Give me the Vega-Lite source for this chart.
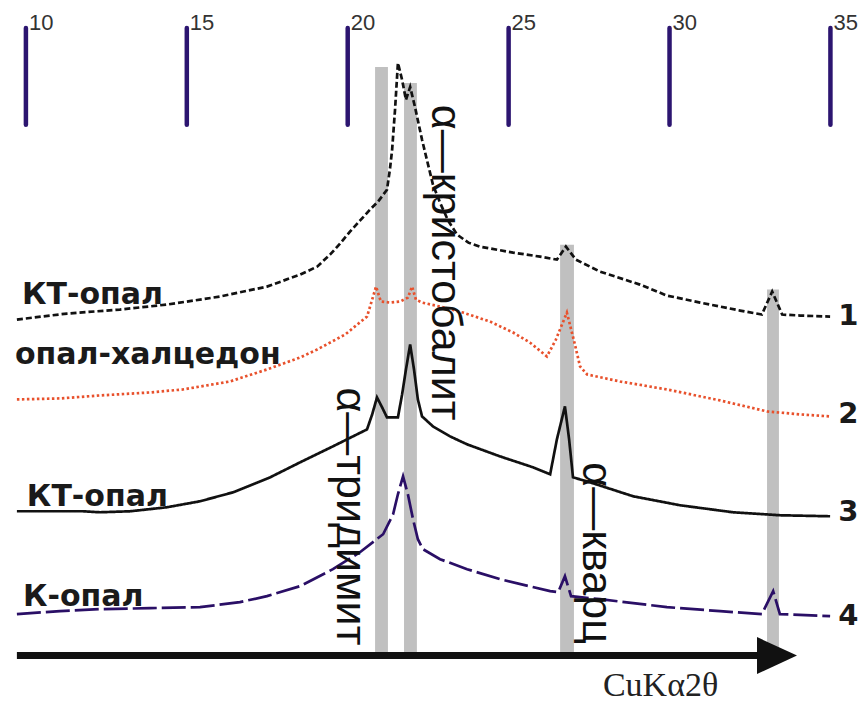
{
  "$schema": "https://vega.github.io/schema/vega-lite/v6.json",
  "width": 861,
  "height": 703,
  "autosize": {"type": "fit", "contains": "padding"},
  "padding": 0,
  "background": "white",
  "config": {"view": {"stroke": null}},
  "datasets": {
    "patterns": [
      {"curve": "1", "twotheta": 9.72, "intensity": 38.3},
      {"curve": "1", "twotheta": 11.28, "intensity": 38.9},
      {"curve": "1", "twotheta": 12.92, "intensity": 39.3},
      {"curve": "1", "twotheta": 14.38, "intensity": 39.8},
      {"curve": "1", "twotheta": 16.03, "intensity": 40.6},
      {"curve": "1", "twotheta": 17.49, "intensity": 41.6},
      {"curve": "1", "twotheta": 18.52, "intensity": 42.8},
      {"curve": "1", "twotheta": 19.05, "intensity": 43.6},
      {"curve": "1", "twotheta": 19.45, "intensity": 44.8},
      {"curve": "1", "twotheta": 19.76, "intensity": 45.9},
      {"curve": "1", "twotheta": 20.07, "intensity": 47.1},
      {"curve": "1", "twotheta": 20.38, "intensity": 48.2},
      {"curve": "1", "twotheta": 20.69, "intensity": 49.3},
      {"curve": "1", "twotheta": 20.94, "intensity": 50.1},
      {"curve": "1", "twotheta": 21.22, "intensity": 51.3},
      {"curve": "1", "twotheta": 21.31, "intensity": 53.3},
      {"curve": "1", "twotheta": 21.38, "intensity": 55.3},
      {"curve": "1", "twotheta": 21.47, "intensity": 59.3},
      {"curve": "1", "twotheta": 21.56, "intensity": 64.0},
      {"curve": "1", "twotheta": 21.69, "intensity": 62.3},
      {"curve": "1", "twotheta": 21.81, "intensity": 60.3},
      {"curve": "1", "twotheta": 21.94, "intensity": 61.6},
      {"curve": "1", "twotheta": 22.09, "intensity": 59.6},
      {"curve": "1", "twotheta": 22.31, "intensity": 56.3},
      {"curve": "1", "twotheta": 22.46, "intensity": 54.3},
      {"curve": "1", "twotheta": 22.65, "intensity": 51.8},
      {"curve": "1", "twotheta": 22.87, "intensity": 50.0},
      {"curve": "1", "twotheta": 23.12, "intensity": 48.2},
      {"curve": "1", "twotheta": 23.40, "intensity": 46.8},
      {"curve": "1", "twotheta": 23.75, "intensity": 46.0},
      {"curve": "1", "twotheta": 24.11, "intensity": 45.6},
      {"curve": "1", "twotheta": 25.14, "intensity": 45.0},
      {"curve": "1", "twotheta": 25.98, "intensity": 44.6},
      {"curve": "1", "twotheta": 26.50, "intensity": 44.3},
      {"curve": "1", "twotheta": 26.78, "intensity": 45.6},
      {"curve": "1", "twotheta": 27.09, "intensity": 44.3},
      {"curve": "1", "twotheta": 27.84, "intensity": 43.1},
      {"curve": "1", "twotheta": 29.08, "intensity": 41.8},
      {"curve": "1", "twotheta": 29.92, "intensity": 40.7},
      {"curve": "1", "twotheta": 30.95, "intensity": 40.0},
      {"curve": "1", "twotheta": 32.19, "intensity": 39.2},
      {"curve": "1", "twotheta": 32.87, "intensity": 38.8},
      {"curve": "1", "twotheta": 33.19, "intensity": 41.1},
      {"curve": "1", "twotheta": 33.50, "intensity": 38.8},
      {"curve": "1", "twotheta": 34.06, "intensity": 38.7},
      {"curve": "1", "twotheta": 34.99, "intensity": 38.6},

      {"curve": "2", "twotheta": 9.72, "intensity": 30.3},
      {"curve": "2", "twotheta": 11.06, "intensity": 30.4},
      {"curve": "2", "twotheta": 12.30, "intensity": 30.7},
      {"curve": "2", "twotheta": 13.86, "intensity": 31.0},
      {"curve": "2", "twotheta": 14.88, "intensity": 31.3},
      {"curve": "2", "twotheta": 16.34, "intensity": 32.1},
      {"curve": "2", "twotheta": 17.49, "intensity": 33.3},
      {"curve": "2", "twotheta": 18.52, "intensity": 34.5},
      {"curve": "2", "twotheta": 19.05, "intensity": 35.3},
      {"curve": "2", "twotheta": 19.92, "intensity": 36.8},
      {"curve": "2", "twotheta": 20.60, "intensity": 38.6},
      {"curve": "2", "twotheta": 20.76, "intensity": 40.3},
      {"curve": "2", "twotheta": 20.88, "intensity": 41.6},
      {"curve": "2", "twotheta": 21.03, "intensity": 40.1},
      {"curve": "2", "twotheta": 21.31, "intensity": 40.0},
      {"curve": "2", "twotheta": 21.63, "intensity": 40.1},
      {"curve": "2", "twotheta": 21.87, "intensity": 40.5},
      {"curve": "2", "twotheta": 22.00, "intensity": 41.6},
      {"curve": "2", "twotheta": 22.12, "intensity": 40.3},
      {"curve": "2", "twotheta": 22.31, "intensity": 40.0},
      {"curve": "2", "twotheta": 22.87, "intensity": 39.6},
      {"curve": "2", "twotheta": 23.58, "intensity": 39.0},
      {"curve": "2", "twotheta": 24.42, "intensity": 38.1},
      {"curve": "2", "twotheta": 25.14, "intensity": 37.0},
      {"curve": "2", "twotheta": 25.66, "intensity": 36.0},
      {"curve": "2", "twotheta": 26.19, "intensity": 34.6},
      {"curve": "2", "twotheta": 26.47, "intensity": 36.3},
      {"curve": "2", "twotheta": 26.81, "intensity": 39.0},
      {"curve": "2", "twotheta": 27.06, "intensity": 35.8},
      {"curve": "2", "twotheta": 27.22, "intensity": 33.6},
      {"curve": "2", "twotheta": 27.44, "intensity": 32.8},
      {"curve": "2", "twotheta": 28.46, "intensity": 32.1},
      {"curve": "2", "twotheta": 29.92, "intensity": 31.3},
      {"curve": "2", "twotheta": 31.57, "intensity": 30.2},
      {"curve": "2", "twotheta": 33.03, "intensity": 29.1},
      {"curve": "2", "twotheta": 34.06, "intensity": 28.8},
      {"curve": "2", "twotheta": 34.99, "intensity": 28.6},

      {"curve": "3", "twotheta": 9.72, "intensity": 19.1},
      {"curve": "3", "twotheta": 10.75, "intensity": 19.1},
      {"curve": "3", "twotheta": 11.77, "intensity": 19.1},
      {"curve": "3", "twotheta": 12.30, "intensity": 19.0},
      {"curve": "3", "twotheta": 13.24, "intensity": 19.1},
      {"curve": "3", "twotheta": 14.38, "intensity": 19.5},
      {"curve": "3", "twotheta": 15.41, "intensity": 20.1},
      {"curve": "3", "twotheta": 16.44, "intensity": 21.0},
      {"curve": "3", "twotheta": 17.59, "intensity": 22.5},
      {"curve": "3", "twotheta": 18.52, "intensity": 24.0},
      {"curve": "3", "twotheta": 19.54, "intensity": 25.6},
      {"curve": "3", "twotheta": 20.60, "intensity": 27.3},
      {"curve": "3", "twotheta": 20.76, "intensity": 28.8},
      {"curve": "3", "twotheta": 20.91, "intensity": 30.5},
      {"curve": "3", "twotheta": 21.07, "intensity": 29.5},
      {"curve": "3", "twotheta": 21.22, "intensity": 28.5},
      {"curve": "3", "twotheta": 21.56, "intensity": 28.5},
      {"curve": "3", "twotheta": 21.69, "intensity": 30.8},
      {"curve": "3", "twotheta": 21.81, "intensity": 33.3},
      {"curve": "3", "twotheta": 21.94, "intensity": 35.8},
      {"curve": "3", "twotheta": 22.06, "intensity": 33.3},
      {"curve": "3", "twotheta": 22.18, "intensity": 30.3},
      {"curve": "3", "twotheta": 22.31, "intensity": 28.6},
      {"curve": "3", "twotheta": 22.65, "intensity": 27.6},
      {"curve": "3", "twotheta": 23.18, "intensity": 26.6},
      {"curve": "3", "twotheta": 23.71, "intensity": 25.8},
      {"curve": "3", "twotheta": 24.73, "intensity": 24.6},
      {"curve": "3", "twotheta": 25.76, "intensity": 23.5},
      {"curve": "3", "twotheta": 26.29, "intensity": 22.8},
      {"curve": "3", "twotheta": 26.50, "intensity": 26.3},
      {"curve": "3", "twotheta": 26.75, "intensity": 29.6},
      {"curve": "3", "twotheta": 26.88, "intensity": 26.3},
      {"curve": "3", "twotheta": 27.00, "intensity": 22.5},
      {"curve": "3", "twotheta": 27.53, "intensity": 22.0},
      {"curve": "3", "twotheta": 28.87, "intensity": 20.6},
      {"curve": "3", "twotheta": 30.33, "intensity": 19.7},
      {"curve": "3", "twotheta": 31.97, "intensity": 19.0},
      {"curve": "3", "twotheta": 33.43, "intensity": 18.7},
      {"curve": "3", "twotheta": 34.99, "intensity": 18.6},

      {"curve": "4", "twotheta": 9.72, "intensity": 8.8},
      {"curve": "4", "twotheta": 11.06, "intensity": 9.1},
      {"curve": "4", "twotheta": 12.30, "intensity": 9.3},
      {"curve": "4", "twotheta": 13.86, "intensity": 9.4},
      {"curve": "4", "twotheta": 15.41, "intensity": 9.5},
      {"curve": "4", "twotheta": 16.65, "intensity": 10.0},
      {"curve": "4", "twotheta": 17.49, "intensity": 10.6},
      {"curve": "4", "twotheta": 18.52, "intensity": 11.6},
      {"curve": "4", "twotheta": 19.54, "intensity": 13.3},
      {"curve": "4", "twotheta": 20.38, "intensity": 15.0},
      {"curve": "4", "twotheta": 21.10, "intensity": 16.8},
      {"curve": "4", "twotheta": 21.41, "intensity": 18.8},
      {"curve": "4", "twotheta": 21.56, "intensity": 20.8},
      {"curve": "4", "twotheta": 21.72, "intensity": 22.6},
      {"curve": "4", "twotheta": 21.87, "intensity": 20.8},
      {"curve": "4", "twotheta": 22.03, "intensity": 18.3},
      {"curve": "4", "twotheta": 22.18, "intensity": 16.3},
      {"curve": "4", "twotheta": 22.34, "intensity": 15.3},
      {"curve": "4", "twotheta": 22.87, "intensity": 14.3},
      {"curve": "4", "twotheta": 23.71, "intensity": 13.3},
      {"curve": "4", "twotheta": 24.73, "intensity": 12.3},
      {"curve": "4", "twotheta": 26.29, "intensity": 11.1},
      {"curve": "4", "twotheta": 26.54, "intensity": 11.0},
      {"curve": "4", "twotheta": 26.75, "intensity": 12.6},
      {"curve": "4", "twotheta": 26.94, "intensity": 10.6},
      {"curve": "4", "twotheta": 27.84, "intensity": 10.3},
      {"curve": "4", "twotheta": 29.92, "intensity": 9.5},
      {"curve": "4", "twotheta": 31.57, "intensity": 9.1},
      {"curve": "4", "twotheta": 32.87, "intensity": 8.8},
      {"curve": "4", "twotheta": 33.22, "intensity": 11.1},
      {"curve": "4", "twotheta": 33.43, "intensity": 8.8},
      {"curve": "4", "twotheta": 34.99, "intensity": 8.6}
    ],
    "reflexes": [
      {"phase": "α-тридимит", "from": 20.85, "to": 21.25, "top": 63.6, "bottom": 5.0},
      {"phase": "α-кристобалит", "from": 21.75, "to": 22.15, "top": 62.0, "bottom": 5.0},
      {"phase": "α-кварц", "from": 26.60, "to": 27.03, "top": 45.8, "bottom": 5.0},
      {"phase": "α-кварц", "from": 33.03, "to": 33.40, "top": 41.3, "bottom": 5.1}
    ],
    "ticks": [
      {"twotheta": 10, "label": "10", "top": 67.5, "bottom": 57.8, "labelpos": 67.3},
      {"twotheta": 15, "label": "15", "top": 67.5, "bottom": 57.8, "labelpos": 67.3},
      {"twotheta": 20, "label": "20", "top": 67.5, "bottom": 57.8, "labelpos": 67.3},
      {"twotheta": 25, "label": "25", "top": 67.5, "bottom": 57.8, "labelpos": 67.3},
      {"twotheta": 30, "label": "30", "top": 67.5, "bottom": 57.8, "labelpos": 67.3},
      {"twotheta": 35, "label": "35", "top": 67.5, "bottom": 57.8, "labelpos": 67.3}
    ],
    "samples": [
      {"twotheta": 9.88, "intensity": 39.9, "text": "КТ-опал"},
      {"twotheta": 9.66, "intensity": 33.8, "text": "опал-халцедон"},
      {"twotheta": 10.03, "intensity": 19.6, "text": "КТ-опал"},
      {"twotheta": 9.91, "intensity": 9.6, "text": "К-опал"}
    ],
    "numbers": [
      {"twotheta": 35.24, "intensity": 38.7, "text": "1"},
      {"twotheta": 35.24, "intensity": 28.8, "text": "2"},
      {"twotheta": 35.24, "intensity": 19.0, "text": "3"},
      {"twotheta": 35.24, "intensity": 8.6, "text": "4"}
    ],
    "phases": [
      {"twotheta": 22.62, "intensity": 59.8, "text": "α—кристобалит"},
      {"twotheta": 19.67, "intensity": 31.5, "text": "α—тридимит"},
      {"twotheta": 27.31, "intensity": 24.0, "text": "α—кварц"}
    ],
    "arrow": [
      {"twotheta": 9.72, "end": 32.81, "intensity": 4.65, "head": 33.34}
    ],
    "axistitle": [
      {"twotheta": 27.93, "intensity": 0.6, "text": "CuKα2θ"}
    ]
  },
  "encoding": {
    "x": {"field": "twotheta", "type": "quantitative", "scale": {"domain": [9.195, 35.95], "nice": false, "zero": false}, "axis": null},
    "y": {"field": "intensity", "type": "quantitative", "scale": {"domain": [0, 70.3], "nice": false, "zero": false}, "axis": null}
  },
  "layer": [
    {
      "data": {"name": "reflexes"},
      "mark": {"type": "rect", "color": "#c0c0c0"},
      "encoding": {
        "x": {"field": "from", "type": "quantitative", "axis": null},
        "x2": {"field": "to"},
        "y": {"field": "top", "type": "quantitative", "axis": null},
        "y2": {"field": "bottom"}
      }
    },
    {
      "data": {"name": "ticks"},
      "mark": {"type": "rule", "color": "#2c1570", "strokeWidth": 4.5, "strokeCap": "round"},
      "encoding": {
        "x": {"field": "twotheta", "type": "quantitative", "axis": null},
        "y": {"field": "top", "type": "quantitative", "axis": null},
        "y2": {"field": "bottom"}
      }
    },
    {
      "data": {"name": "ticks"},
      "mark": {"type": "text", "align": "left", "baseline": "alphabetic", "dx": 3, "font": "Liberation Sans", "fontSize": 22, "color": "#333333"},
      "encoding": {
        "y": {"field": "labelpos", "type": "quantitative", "axis": null},
        "text": {"field": "label"}
      }
    },
    {
      "data": {"name": "patterns"},
      "mark": {"type": "line", "strokeWidth": 2.7},
      "encoding": {
        "color": {"field": "curve", "type": "nominal", "scale": {"domain": ["1", "2", "3", "4"], "range": ["#111111", "#e8512c", "#111111", "#2a0f66"]}, "legend": null},
        "strokeDash": {"field": "curve", "type": "nominal", "scale": {"domain": ["1", "2", "3", "4"], "range": [[6, 3], [2.5, 2.5], [1, 0], [24, 5]]}, "legend": null}
      }
    },
    {
      "data": {"name": "samples"},
      "mark": {"type": "text", "align": "left", "baseline": "alphabetic", "font": "DejaVu Sans", "fontWeight": "bold", "fontSize": 30, "color": "#1a1a1a"},
      "encoding": {"text": {"field": "text"}}
    },
    {
      "data": {"name": "numbers"},
      "mark": {"type": "text", "align": "left", "baseline": "middle", "font": "DejaVu Sans", "fontWeight": "bold", "fontSize": 29, "color": "#1a1a1a"},
      "encoding": {"text": {"field": "text"}}
    },
    {
      "data": {"name": "phases"},
      "mark": {"type": "text", "align": "left", "baseline": "alphabetic", "angle": 90, "font": "Liberation Sans", "fontSize": 43, "color": "#111111"},
      "encoding": {"text": {"field": "text"}}
    },
    {
      "data": {"name": "arrow"},
      "mark": {"type": "rule", "color": "#111111", "strokeWidth": 7},
      "encoding": {
        "x2": {"field": "end"}
      }
    },
    {
      "data": {"name": "arrow"},
      "mark": {"type": "point", "shape": "M-1,-0.925L1,0L-1,0.925Z", "size": 1600, "filled": true, "color": "#111111", "opacity": 1, "strokeWidth": 0},
      "encoding": {
        "x": {"field": "head", "type": "quantitative", "axis": null}
      }
    },
    {
      "data": {"name": "axistitle"},
      "mark": {"type": "text", "align": "left", "baseline": "alphabetic", "font": "Liberation Serif", "fontSize": 34, "color": "#222222"},
      "encoding": {"text": {"field": "text"}}
    }
  ]
}
